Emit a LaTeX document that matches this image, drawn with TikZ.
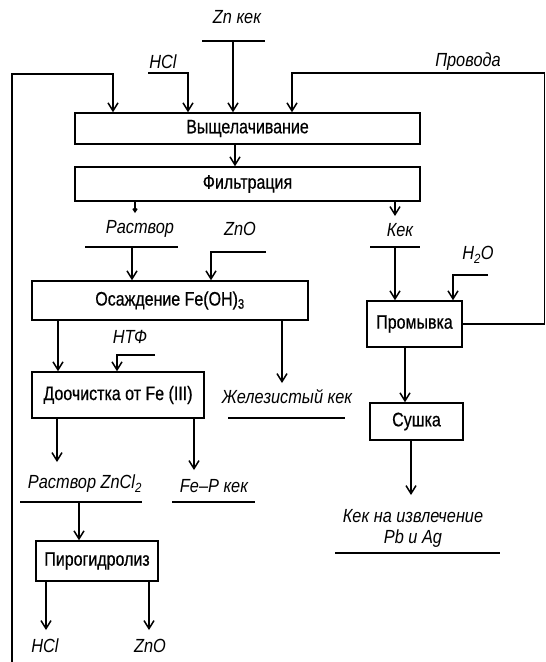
\documentclass[tikz,border=0pt]{standalone}
\usepackage{fontspec}
\setmainfont{Liberation Sans}
\newfontfamily\procfont{Liberation Sans}[FakeStretch=0.82,FakeBold=0.6]
\newfontfamily\flowfont{Liberation Sans}[FakeStretch=0.86]
\usepackage{tikz}
\usetikzlibrary{arrows.meta,calc}

\begin{document}
\begin{tikzpicture}[x=1pt,y=-1pt]
\tikzstyle{proc}=[rectangle, draw=black, line width=1.5pt, inner sep=0pt, font=\procfont\fontsize{19.5}{19.5}\selectfont]
\tikzstyle{flow}=[inner sep=0pt, font=\flowfont\itshape\fontsize{19}{21}\selectfont, align=center]
\tikzstyle{connect}=[-{Straight Barb[length=8pt,width=10pt]}, line width=1.5pt]
\tikzstyle{tick}=[-{Straight Barb[length=3pt,width=4pt]}, line width=1.5pt]
\tikzstyle{line}=[line width=1.5pt]

  \useasboundingbox (0,0) rectangle (546,662);

  \node[proc, minimum width=345, minimum height=31] (leach) at (247.5,128.5) {Выщелачивание};
  \node[proc, minimum width=345, minimum height=34] (filt)  at (247.5,184)   {Фильтрация};
  \node[proc, minimum width=276, minimum height=39] (prec)  at (170,300.5)   {Осаждение Fe(OH)\textsubscript{3}};
  \node[proc, minimum width=95,  minimum height=46] (wash)  at (414.5,324)   {Промывка};
  \node[proc, minimum width=172, minimum height=46] (purif) at (118,395)     {Доочистка от Fe (III)};
  \node[proc, minimum width=93,  minimum height=37] (dry)   at (416.5,421.5) {Сушка};
  \node[proc, minimum width=122, minimum height=40] (pyro)  at (97,561)      {Пирогидролиз};

  \node[flow] (zncake)  at (237,17)  {Zn кек};
  \node[flow] (hcl)     at (163,62)  {HCl};
  \node[flow] (wire)    at (468,62)  {Провода};
  \node[flow] (sol)     at (140,229) {Раствор};
  \node[flow] (cake)    at (400,230) {Кек};
  \node[flow] (zno)     at (240,229) {ZnO};
  \node[flow] (water)   at (478,255) {H\textsubscript{2}O};
  \node[flow] (ntf)     at (130,337) {НТФ};
  \node[flow] (fecake)  at (287,397) {Железистый кек};
  \node[flow] (znsol)   at (85,484)  {Раствор ZnCl\textsubscript{2}};
  \node[flow] (fepcake) at (214,486) {Fe–P кек};
  \node[flow] (pbag)    at (413,528) {Кек на извлечение\\Pb и Ag};
  \node[flow] (hclout)  at (45,646)  {HCl};
  \node[flow] (znoout)  at (150,646) {ZnO};

  \coordinate (zn1) at (202,41);  \coordinate (zn2) at (265,41);
  \coordinate (s1)  at (85,247);  \coordinate (s2)  at (178,247);
  \coordinate (k1)  at (370,247); \coordinate (k2)  at (420,247);
  \coordinate (f1)  at (228,418); \coordinate (f2)  at (345,418);
  \coordinate (z1)  at (20,502);  \coordinate (z2)  at (142,502);
  \coordinate (p1)  at (172,502); \coordinate (p2)  at (255,502);
  \coordinate (c1)  at (335,553); \coordinate (c2)  at (500,553);
  \coordinate (ret) at (12,662);

  \draw[line] (zn1) -- (zn2) (s1) -- (s2) (k1) -- (k2) (f1) -- (f2)
              (z1) -- (z2) (p1) -- (p2) (c1) -- (c2);

  \draw[connect] (zn1 -| 233,0) -- (leach.north -| 233,0);
  \draw[connect] (148,73) -| (leach.north -| 188,0);
  \draw[connect] (ret) -- (12,74) -| (leach.north -| 113,0);
  \draw[connect] (wash.east) -- (544.5,324) -- (544.5,73) -| (leach.north -| 292,0);
  \draw[connect] (leach.south -| 235,0) -- (filt.north -| 235,0);

  \draw[tick] (filt.south -| 135,0) -- (135,213);
  \draw[connect] (filt.south -| 395,0) -- (395,216);
  \draw[connect] (s1 -| 132,0) -- (prec.north -| 132,0);
  \draw[connect] (266,252) -| (prec.north -| 211,0);
  \draw[connect] (k1 -| 395,0) -- (wash.north -| 395,0);
  \draw[connect] (488,275) -| (wash.north -| 453,0);

  \draw[connect] (prec.south -| 58,0) -- (purif.north -| 58,0);
  \draw[connect] (155,355) -| (purif.north -| 117,0);
  \draw[connect] (prec.south -| 282,0) -- (282,383);
  \draw[connect] (wash.south -| 405,0) -- (dry.north -| 405,0);

  \draw[connect] (purif.south -| 57,0) -- (57,462);
  \draw[connect] (purif.south -| 194,0) -- (194,470);
  \draw[connect] (dry.south -| 411,0) -- (411,495);
  \draw[connect] (z1 -| 79,0) -- (pyro.north -| 79,0);
  \draw[connect] (pyro.south -| 46,0) -- (46,630);
  \draw[connect] (pyro.south -| 149,0) -- (149,630);

\end{tikzpicture}
\end{document}
